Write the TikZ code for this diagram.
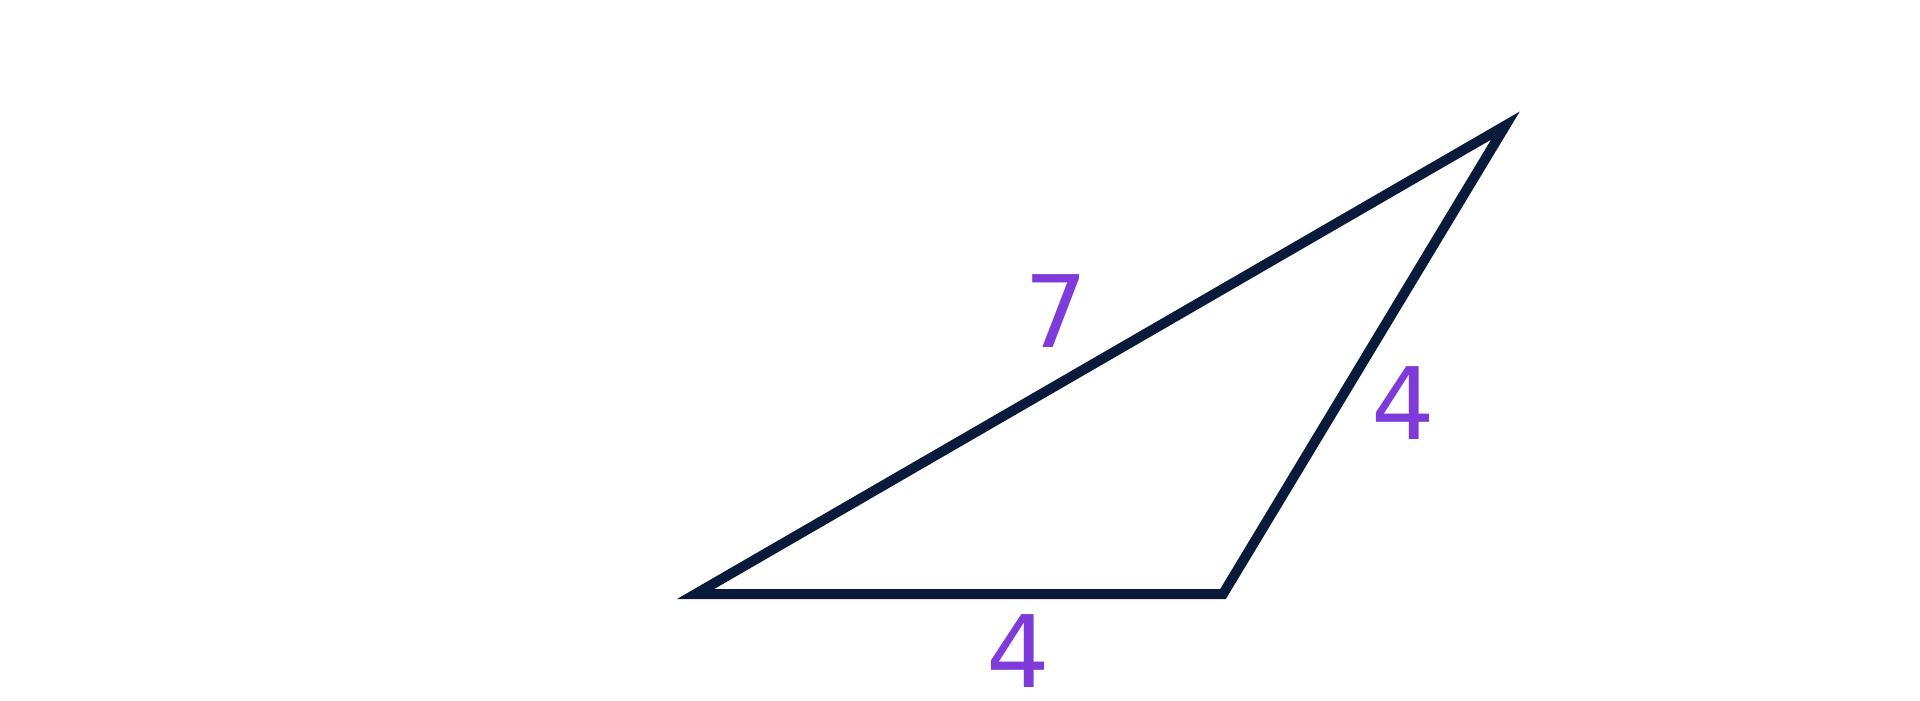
\documentclass[tikz,border=0pt]{standalone}
\usepackage{fontspec}
\setmainfont{DejaVu Sans}
\definecolor{edgecol}{HTML}{0A1A3A}
\definecolor{labcol}{HTML}{7E3BD9}
\begin{document}
\begin{tikzpicture}[x=0.5bp,y=-0.5bp,
  edgeline/.style={draw=edgecol,line width=5bp,line join=miter},
  sidelabel/.style={text=labcol,inner sep=0pt,font=\fontsize{50bp}{60bp}\selectfont}]
\useasboundingbox (0,0) rectangle (1920,700);
\coordinate (A) at (695.6,594);
\coordinate (B) at (1223,594);
\coordinate (C) at (1505.4,125.6);
\draw[edgeline] (A) -- (B) -- (C) -- cycle;
\node[sidelabel] (l7) at (1056,311.5) {7};
\node[sidelabel] (lr) at (1403,403.5) {4};
\node[sidelabel] (lb) at (1018.5,651.5) {4};
\end{tikzpicture}
\end{document}
